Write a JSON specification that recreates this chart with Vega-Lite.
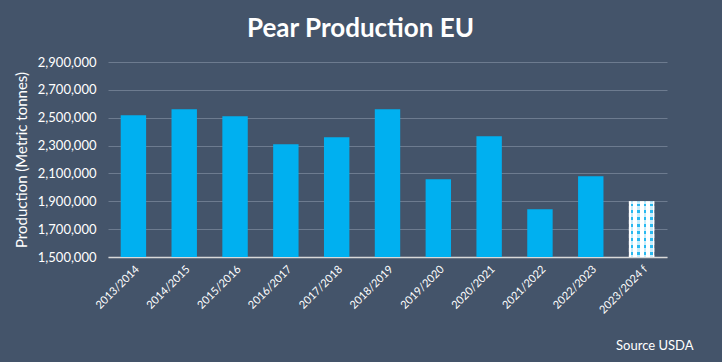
{
  "$schema": "https://vega.github.io/schema/vega-lite/v6.json",
  "width": 559,
  "height": 195,
  "autosize": {"type": "none"},
  "padding": {"left": 108, "top": 62, "right": 55, "bottom": 105},
  "background": "#44546a",
  "title": {
    "text": "Pear Production EU",
    "font": "Lato",
    "fontSize": 26,
    "fontWeight": "bold",
    "color": "#ffffff",
    "anchor": "middle",
    "dx": -27,
    "offset": 14
  },
  "config": {
    "view": {"stroke": null},
    "font": "Lato"
  },
  "data": {
    "values": [
      {"season": "2013/2014", "production": 2517000, "type": "Actual"},
      {"season": "2014/2015", "production": 2560000, "type": "Actual"},
      {"season": "2015/2016", "production": 2510000, "type": "Actual"},
      {"season": "2016/2017", "production": 2310000, "type": "Actual"},
      {"season": "2017/2018", "production": 2360000, "type": "Actual"},
      {"season": "2018/2019", "production": 2560000, "type": "Actual"},
      {"season": "2019/2020", "production": 2058000, "type": "Actual"},
      {"season": "2020/2021", "production": 2367000, "type": "Actual"},
      {"season": "2021/2022", "production": 1842000, "type": "Actual"},
      {"season": "2022/2023", "production": 2080000, "type": "Actual"},
      {"season": "2023/2024 f", "production": 1900000, "type": "Forecast"}
    ]
  },
  "encoding": {
    "x": {
      "field": "season",
      "type": "ordinal",
      "sort": null,
      "scale": {"paddingInner": 0.5, "paddingOuter": 0.25},
      "axis": {
        "title": "Source USDA",
        "titleFont": "Lato",
        "titleFontSize": 13,
        "titleFontWeight": "normal",
        "titleColor": "#ffffff",
        "titleAnchor": "end",
        "titleAlign": "right",
        "titleBaseline": "alphabetic",
        "titleX": 585,
        "titleY": 92,
        "labelAngle": -45,
        "labelFontSize": 11,
        "labelColor": "#ffffff",
        "labelPadding": 6,
        "ticks": false,
        "domainColor": "#d9d9d9",
        "domainWidth": 1.5,
        "grid": false
      }
    },
    "y": {
      "field": "production",
      "type": "quantitative",
      "scale": {"domain": [1500000, 2900000], "zero": false, "nice": false},
      "axis": {
        "title": "Production (Metric tonnes)",
        "titleFontSize": 15,
        "titleFontWeight": "normal",
        "titleColor": "#ffffff",
        "titlePadding": 8,
        "values": [1500000, 1700000, 1900000, 2100000, 2300000, 2500000, 2700000, 2900000],
        "format": ",d",
        "labelFontSize": 13,
        "labelColor": "#ffffff",
        "labelPadding": 12,
        "ticks": false,
        "domain": false,
        "gridColor": "#6d7b8f",
        "gridWidth": 1
      }
    },
    "y2": {"datum": 1500000}
  },
  "layer": [
    {
      "transform": [{"filter": "datum.type === 'Actual'"}],
      "mark": {"type": "bar", "fill": "#00b0f0"}
    },
    {
      "transform": [{"filter": "datum.type === 'Forecast'"}],
      "mark": {
        "type": "bar",
        "fill": {
          "gradient": "linear",
          "x1": 0, "x2": 1, "y1": 0, "y2": 0,
          "stops": [
            {"offset": 0, "color": "#ffffff"},
            {"offset": 0.08, "color": "#ffffff"},
            {"offset": 0.08, "color": "#29b9f0"},
            {"offset": 0.18, "color": "#29b9f0"},
            {"offset": 0.18, "color": "#ffffff"},
            {"offset": 0.33, "color": "#ffffff"},
            {"offset": 0.33, "color": "#29b9f0"},
            {"offset": 0.43, "color": "#29b9f0"},
            {"offset": 0.43, "color": "#ffffff"},
            {"offset": 0.58, "color": "#ffffff"},
            {"offset": 0.58, "color": "#29b9f0"},
            {"offset": 0.68, "color": "#29b9f0"},
            {"offset": 0.68, "color": "#ffffff"},
            {"offset": 0.83, "color": "#ffffff"},
            {"offset": 0.83, "color": "#29b9f0"},
            {"offset": 0.93, "color": "#29b9f0"},
            {"offset": 0.93, "color": "#ffffff"},
            {"offset": 1, "color": "#ffffff"}
          ]
        }
      }
    },
    {
      "transform": [{"filter": "datum.type === 'Forecast'"}],
      "mark": {
        "type": "bar",
        "fill": {
          "gradient": "linear",
          "x1": 0, "x2": 0, "y1": 0, "y2": 1,
          "stops": [
            {"offset": 0, "color": "rgba(255,255,255,0.75)"},
            {"offset": 0.04, "color": "rgba(255,255,255,0.75)"},
            {"offset": 0.04, "color": "rgba(255,255,255,0)"},
            {"offset": 0.09, "color": "rgba(255,255,255,0)"},
            {"offset": 0.09, "color": "rgba(255,255,255,0.75)"},
            {"offset": 0.165, "color": "rgba(255,255,255,0.75)"},
            {"offset": 0.165, "color": "rgba(255,255,255,0)"},
            {"offset": 0.215, "color": "rgba(255,255,255,0)"},
            {"offset": 0.215, "color": "rgba(255,255,255,0.75)"},
            {"offset": 0.29, "color": "rgba(255,255,255,0.75)"},
            {"offset": 0.29, "color": "rgba(255,255,255,0)"},
            {"offset": 0.34, "color": "rgba(255,255,255,0)"},
            {"offset": 0.34, "color": "rgba(255,255,255,0.75)"},
            {"offset": 0.415, "color": "rgba(255,255,255,0.75)"},
            {"offset": 0.415, "color": "rgba(255,255,255,0)"},
            {"offset": 0.465, "color": "rgba(255,255,255,0)"},
            {"offset": 0.465, "color": "rgba(255,255,255,0.75)"},
            {"offset": 0.54, "color": "rgba(255,255,255,0.75)"},
            {"offset": 0.54, "color": "rgba(255,255,255,0)"},
            {"offset": 0.59, "color": "rgba(255,255,255,0)"},
            {"offset": 0.59, "color": "rgba(255,255,255,0.75)"},
            {"offset": 0.665, "color": "rgba(255,255,255,0.75)"},
            {"offset": 0.665, "color": "rgba(255,255,255,0)"},
            {"offset": 0.715, "color": "rgba(255,255,255,0)"},
            {"offset": 0.715, "color": "rgba(255,255,255,0.75)"},
            {"offset": 0.79, "color": "rgba(255,255,255,0.75)"},
            {"offset": 0.79, "color": "rgba(255,255,255,0)"},
            {"offset": 0.84, "color": "rgba(255,255,255,0)"},
            {"offset": 0.84, "color": "rgba(255,255,255,0.75)"},
            {"offset": 0.915, "color": "rgba(255,255,255,0.75)"},
            {"offset": 0.915, "color": "rgba(255,255,255,0)"},
            {"offset": 0.965, "color": "rgba(255,255,255,0)"},
            {"offset": 0.965, "color": "rgba(255,255,255,0.75)"},
            {"offset": 1, "color": "rgba(255,255,255,0.75)"}
          ]
        }
      }
    }
  ]
}
